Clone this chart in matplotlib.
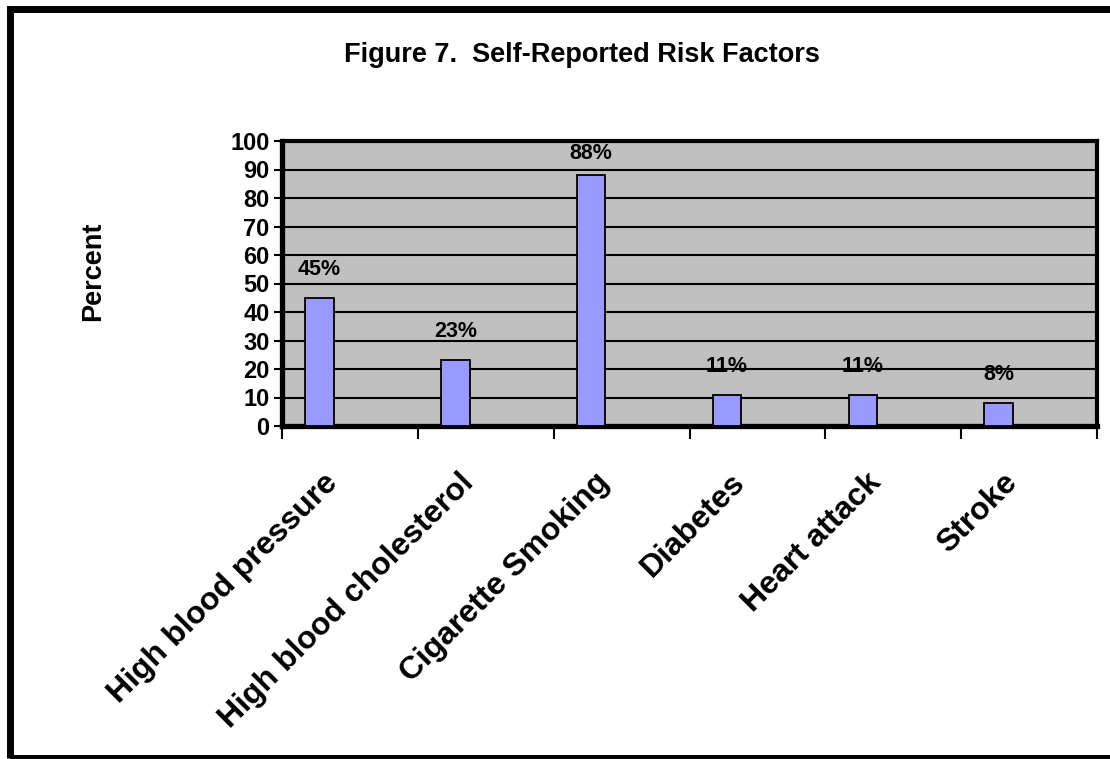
import matplotlib.pyplot as plt
from matplotlib.patches import Rectangle

plt.rcParams['font.family'] = ['Liberation Sans', 'DejaVu Sans']

# === Данные ===
categories = ['High blood pressure', 'High blood cholesterol', 'Cigarette Smoking',
              'Diabetes', 'Heart attack', 'Stroke']
percent = [45, 23, 88, 11, 11, 8]
y_ticks = list(range(0, 101, 10))

W, H = 1110, 759
fig = plt.figure(figsize=(W / 100, H / 100), dpi=100)
fig.patch.set_facecolor('white')

# рамка вокруг всей диаграммы (правый край обрезан)
fig.patches.append(Rectangle((9.5 / W, 1 - 758 / H), 1.2, (758 - 8.5) / H,
                             transform=fig.transFigure, fill=False,
                             edgecolor='black', linewidth=5))

ax = fig.add_axes([282 / W, 1 - 426 / H, (1097 - 282) / W, (426 - 141) / H])
ax.set_facecolor('#C0C0C0')

x = list(range(len(categories)))
bar_x = [i - 0.224 for i in x]
ax.bar(bar_x, percent, width=0.209, color='#9999FF', edgecolor='black',
       linewidth=1.3, zorder=3)

# подписи значений: над столбцом, но не выше верхней рамки области
label_gap = 6.3
label_cap = 91.9
for bx, v in zip(bar_x, percent):
    ax.text(bx, min(v + label_gap, label_cap), f'{v}%', ha='center', va='bottom',
            fontsize=15.5, fontweight='bold', zorder=4)

ax.set_xlim(-0.5, len(categories) - 0.5)
ax.set_ylim(0, 100)
ax.set_yticks(y_ticks)
ax.yaxis.grid(True, color='black', linewidth=1.5, zorder=1)
ax.set_axisbelow(True)

# подписи категорий чуть левее центра категории
ax.set_xticks([i - 0.2 for i in x])
ax.set_xticklabels(categories, rotation=45, ha='right', rotation_mode='anchor',
                   fontsize=23, fontweight='bold')
ax.tick_params(axis='x', which='major', length=0, pad=30)
ax.set_xticks([i - 0.5 for i in range(len(categories) + 1)], minor=True)
ax.tick_params(axis='x', which='minor', length=9, width=1.5, direction='out')
ax.tick_params(axis='y', length=6, width=1.5, direction='out', labelsize=17, pad=3)
for lbl in ax.get_yticklabels():
    lbl.set_fontweight('bold')

for side in ['left', 'bottom']:
    ax.spines[side].set_linewidth(3.8)
for side in ['top', 'right']:
    ax.spines[side].set_linewidth(3.0)

fig.text(93 / W, 1 - 271 / H, 'Percent', rotation=90, ha='center', va='center',
         fontsize=19.5, fontweight='bold')
fig.text(582 / W, 1 - 55 / H, 'Figure 7.  Self-Reported Risk Factors',
         ha='center', va='center', fontsize=19.5, fontweight='bold')

plt.savefig('out.png', dpi=100)
